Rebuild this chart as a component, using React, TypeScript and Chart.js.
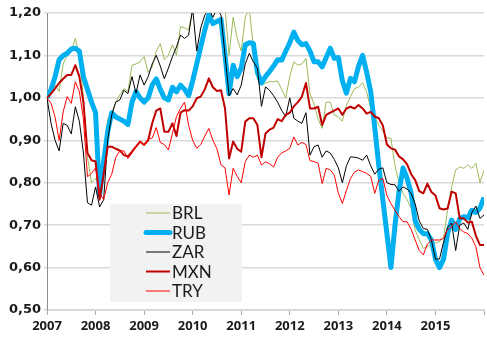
import React, { useEffect, useRef } from "react";
import { Chart, registerables } from "chart.js";

Chart.register(...registerables);

const seriesNames = ["BRL", "RUB", "ZAR", "MXN", "TRY"];
const seriesColors = ["#9bbb59", "#00b0f0", "#000000", "#c00000", "#ff0000"];
const seriesWidths = [1, 5, 1, 2, 1];

const yearTicks = [2007, 2008, 2009, 2010, 2011, 2012, 2013, 2014, 2015];
const startYear = 2007;
const endYear = 2016;

const brlValues = [
  1.0, 1.01, 1.03, 1.015, 1.08, 1.1, 1.11, 1.14, 1.1, 1.0, 0.86, 0.8,
  0.81, 0.79, 0.87, 0.95, 0.965, 0.99, 1.007, 1.022, 1.015, 1.077, 1.08, 1.085,
  1.097, 1.06, 1.073, 1.11, 1.128, 1.09, 1.1, 1.125, 1.1, 1.168, 1.165, 1.16,
  1.21, 1.23, 1.24, 1.25, 1.26, 1.24, 1.25, 1.22, 1.21, 1.1, 1.19, 1.14,
  1.11, 1.19, 1.21, 1.12, 1.045, 1.03, 1.035, 1.038, 1.038, 1.04, 1.02, 1.0,
  1.05, 1.085, 1.077, 1.08, 1.093, 1.01, 0.985, 0.95, 0.928, 0.99, 0.99, 0.96,
  0.955, 0.945, 0.983, 1.003, 1.022, 1.025, 1.036, 1.014, 0.975, 0.955, 0.935, 0.922,
  0.905, 0.905, 0.84, 0.8, 0.775, 0.76, 0.74, 0.688, 0.665, 0.645, 0.65, 0.655,
  0.658, 0.661, 0.67, 0.735, 0.79, 0.83, 0.837, 0.834, 0.842, 0.834, 0.846, 0.8,
  0.83,
];

const rubValues = [
  1.0, 1.02, 1.05, 1.09, 1.1, 1.105, 1.115, 1.117, 1.11, 1.05, 1.02, 0.99,
  0.965, 0.77, 0.85, 0.92, 0.965, 0.955, 0.95, 0.945, 0.937, 0.99, 1.015, 1.0,
  0.99, 1.0, 1.03, 1.045, 1.02, 1.0, 0.995, 1.025, 1.014, 1.03, 1.02, 1.005,
  1.04, 1.08, 1.12, 1.16, 1.195, 1.175, 1.18, 1.185, 1.1, 1.01, 1.077, 1.05,
  1.07, 1.125, 1.13, 1.128, 1.06, 1.035, 1.05, 1.062, 1.075, 1.09, 1.089, 1.11,
  1.13, 1.155, 1.135, 1.125, 1.128, 1.11, 1.085, 1.085, 1.073, 1.095, 1.117, 1.093,
  1.095, 1.04, 1.011, 1.046, 1.038, 1.075, 1.1, 1.06, 1.015, 0.93, 0.84, 0.76,
  0.68, 0.6, 0.7, 0.78, 0.835, 0.81, 0.775, 0.71, 0.69, 0.68, 0.68, 0.665,
  0.62, 0.6, 0.62, 0.68, 0.712, 0.69, 0.715, 0.72, 0.717, 0.735, 0.73, 0.74,
  0.765,
];

const zarValues = [
  1.0, 0.94, 0.9, 0.875, 0.94, 0.935, 0.915, 0.979, 0.945, 0.87, 0.753, 0.747,
  0.79, 0.743, 0.76, 0.9, 0.96, 0.99, 0.995, 1.018, 1.01, 1.05, 1.011, 1.054,
  1.03, 1.05, 1.08, 1.1, 1.075, 1.045, 1.07, 1.097, 1.12, 1.148, 1.14, 1.148,
  1.21, 1.11, 1.165, 1.195, 1.21, 1.19, 1.21, 1.195, 1.1, 1.005, 1.022, 1.007,
  1.03, 1.08, 1.105, 1.085, 1.07, 0.98, 1.026, 1.018, 1.005, 0.99, 0.97, 0.956,
  1.0, 0.952, 0.945, 0.94, 0.965, 0.865, 0.885, 0.889, 0.86, 0.875, 0.87, 0.855,
  0.835, 0.8, 0.84, 0.861, 0.86, 0.858, 0.853, 0.865, 0.84, 0.82, 0.832, 0.835,
  0.8, 0.796, 0.795, 0.78, 0.79, 0.785, 0.775, 0.75, 0.71, 0.692, 0.69, 0.665,
  0.62, 0.62, 0.66, 0.695, 0.705, 0.64, 0.7, 0.705, 0.69, 0.73, 0.745, 0.716,
  0.724,
];

const mxnValues = [
  1.0, 1.01, 1.022, 1.035, 1.045, 1.054, 1.054, 1.077, 1.05, 0.99, 0.87, 0.853,
  0.85, 0.76, 0.82, 0.885, 0.885, 0.88, 0.876, 0.865, 0.862, 0.873, 0.885, 0.897,
  0.889, 0.9, 0.94, 0.97, 0.975, 0.92, 0.92, 0.94, 0.91, 0.965, 0.971, 0.97,
  0.98, 0.999, 1.003, 1.02, 1.046, 1.025, 1.016, 1.018, 0.975, 0.857, 0.897, 0.88,
  0.873, 0.944, 0.952, 0.952, 0.936, 0.86, 0.916, 0.925, 0.93, 0.95, 0.945, 0.96,
  0.965, 0.98, 0.99, 1.003, 1.035, 0.975, 0.975, 0.979, 0.936, 0.96, 0.965, 0.97,
  0.975, 0.96, 0.975, 0.979, 0.975, 0.983, 0.975, 0.963, 0.967, 0.956, 0.952, 0.935,
  0.89, 0.881, 0.878, 0.862, 0.855, 0.843, 0.82, 0.806, 0.78, 0.775, 0.798, 0.778,
  0.77, 0.74, 0.737, 0.739, 0.779, 0.775, 0.716, 0.716, 0.706, 0.708, 0.675, 0.653,
  0.653,
];

const tryValues = [
  1.0, 0.987, 0.955, 0.9, 0.967, 1.003, 0.987, 1.038, 1.015, 0.95, 0.814, 0.822,
  0.835, 0.775, 0.76, 0.8, 0.82, 0.86, 0.875, 0.875, 0.857, 0.87, 0.885, 0.897,
  0.889, 0.904, 0.905, 0.93, 0.895, 0.89, 0.877, 0.916, 0.956, 0.975, 0.99, 0.935,
  0.9, 0.881, 0.89, 0.91, 0.928, 0.9, 0.88, 0.842, 0.835, 0.771, 0.834, 0.815,
  0.8, 0.85, 0.865, 0.86, 0.865, 0.842, 0.849, 0.845, 0.837, 0.86, 0.87, 0.875,
  0.881, 0.908, 0.889, 0.895, 0.89, 0.852, 0.85, 0.846, 0.798, 0.834, 0.83, 0.818,
  0.775, 0.751, 0.782, 0.81, 0.825, 0.83, 0.826, 0.822, 0.815, 0.775, 0.806, 0.81,
  0.77, 0.751, 0.735, 0.72, 0.708, 0.708, 0.69, 0.665, 0.64, 0.63, 0.655, 0.665,
  0.665, 0.665, 0.669, 0.69, 0.696, 0.708, 0.692, 0.684, 0.68, 0.669, 0.649, 0.6,
  0.582,
];

const allValues = [brlValues, rubValues, zarValues, mxnValues, tryValues];
const months = brlValues.map((_, i) => startYear + i / 12);

const legendPlugin = {
  id: "boxLegend",
  afterDraw(chart: any) {
    const { ctx, chartArea } = chart;
    const bx = chartArea.left + 63;
    const by = chartArea.top + 191;
    const bw = 132;
    const bh = 98;
    ctx.save();
    ctx.fillStyle = "#f2f2f2";
    ctx.fillRect(bx, by, bw, bh);
    ctx.font = "17px Lato";
    ctx.textBaseline = "middle";
    ctx.textAlign = "left";
    seriesNames.forEach((name, i) => {
      const y = by + 9 + i * 19.5;
      ctx.strokeStyle = seriesColors[i];
      ctx.lineWidth = seriesWidths[i];
      ctx.lineCap = i === 1 ? "round" : "butt";
      ctx.beginPath();
      ctx.moveTo(bx + 36, y);
      ctx.lineTo(bx + 60, y);
      ctx.stroke();
      ctx.fillStyle = "#1a1a1a";
      ctx.fillText(name, bx + 62, y + 1);
    });
    ctx.restore();
  },
};

export default function App() {
  const ref = useRef<HTMLCanvasElement>(null);
  useEffect(() => {
    document.body.style.margin = "0";
    const chart = new Chart(ref.current as HTMLCanvasElement, {
      type: "line",
      data: {
        datasets: seriesNames.map((name, i) => ({
          label: name,
          data: allValues[i].map((v, j) => ({ x: months[j], y: v })),
          borderColor: seriesColors[i],
          backgroundColor: seriesColors[i],
          borderWidth: seriesWidths[i],
          pointRadius: 0,
          tension: 0,
          fill: false,
          order: 5 - i,
          borderJoinStyle: "round" as const,
        })),
      },
      options: {
        responsive: false,
        animation: false,
        layout: { padding: { top: 13, right: 3, left: 0, bottom: 0 } },
        plugins: { legend: { display: false }, tooltip: { enabled: false } },
        scales: {
          x: {
            type: "linear",
            min: startYear,
            max: endYear,
            afterBuildTicks: (axis: any) => {
              axis.ticks = [...yearTicks, endYear].map((v) => ({ value: v }));
            },
            afterFit: (axis: any) => {
              axis.height = 27;
            },
            ticks: {
              callback: (v: any) => (yearTicks.includes(v) ? String(v) : ""),
              color: "#1a1a1a",
              font: { family: "Open Sans", weight: "bold", size: 13 },
              maxRotation: 0,
              autoSkip: false,
              padding: 3,
            },
            grid: {
              drawOnChartArea: false,
              drawTicks: true,
              tickLength: 5,
              color: "#a6a6a6",
            },
            border: { color: "#d9d9d9", width: 2 },
          },
          y: {
            min: 0.5,
            max: 1.2,
            afterFit: (axis: any) => {
              axis.width = 47;
            },
            ticks: {
              stepSize: 0.1,
              callback: (v: any) => Number(v).toFixed(2).replace(".", ","),
              color: "#1a1a1a",
              font: { family: "DejaVu Sans", weight: "bold", size: 13 },
              padding: 3,
            },
            grid: {
              color: "#d9d9d9",
              lineWidth: 1.5,
              tickLength: 3,
            },
            border: { color: "#8c8c8c", width: 1 },
          },
        },
      },
      plugins: [legendPlugin],
    } as any);
    return () => chart.destroy();
  }, []);
  return (
    <div style={{ width: 487, height: 337 }}>
      <canvas ref={ref} width={487} height={337} />
    </div>
  );
}
